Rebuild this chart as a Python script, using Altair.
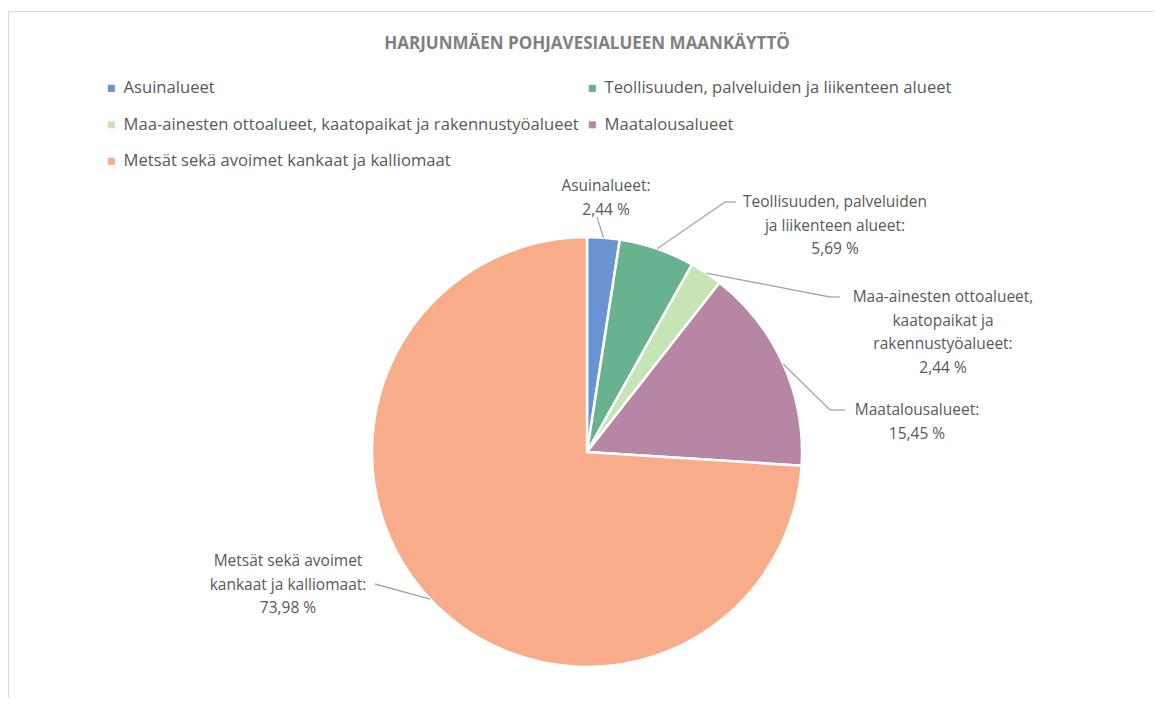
import altair as alt
import pandas as pd

# ---- data ----
categories = [
    "Asuinalueet",
    "Teollisuuden, palveluiden ja liikenteen alueet",
    "Maa-ainesten ottoalueet, kaatopaikat ja rakennustyöalueet",
    "Maatalousalueet",
    "Metsät sekä avoimet kankaat ja kalliomaat",
]
shares = [2.44, 5.69, 2.44, 15.45, 73.98]
label_names = [
    ["Asuinalueet:"],
    ["Teollisuuden, palveluiden", "ja liikenteen alueet:"],
    ["Maa-ainesten ottoalueet,", "kaatopaikat ja", "rakennustyöalueet:"],
    ["Maatalousalueet:"],
    ["Metsät sekä avoimet", "kankaat ja kalliomaat:"],
]
title_text = "HARJUNMÄEN POHJAVESIALUEEN MAANKÄYTTÖ"

# ---- styles / layout ----
colors = ["#6b93d4", "#68b28f", "#c6e4b5", "#b686a4", "#f9ac8a"]
W, H = 1146, 690
CX, CY, R = 579, 444, 215
TEXT_COLOR = "#595959"
FONT = "Open Sans"

# label layout (view coordinates): elbow point, end of horizontal tick, first text line
elbow_x = [589, 717, 822, 822, 367]
elbow_y = [209, 194, 289, 402, 576]
end_x = [589, 728, 832, 837, 367]
text_x = [598, 827, 935, 909, 280]
text_y = [178, 194, 289, 402, 553]


def pct(v):
    return f"{v:.2f}".replace(".", ",") + " %"


df = pd.DataFrame({"category": categories, "share": shares, "order": list(range(len(categories)))})

lab = pd.DataFrame({
    "category": categories,
    "share": shares,
    "order": list(range(len(categories))),
    "label": ["\n".join(n + [pct(v)]) for n, v in zip(label_names, shares)],
    "ex": elbow_x, "ey": elbow_y, "tx": end_x, "lx": text_x, "ly": text_y,
})

color_scale = alt.Scale(domain=categories, range=colors)

pie = alt.Chart(df).mark_arc(outerRadius=R, stroke="white", strokeWidth=2.5).encode(
    theta=alt.Theta("share:Q", stack=True),
    color=alt.Color(
        "category:N", scale=color_scale, sort=categories,
        legend=alt.Legend(
            title=None, orient="none", legendX=95, legendY=72, columns=2,
            direction="horizontal",
            symbolType="square", symbolSize=50, symbolStrokeWidth=0,
            labelFont=FONT, labelFontSize=16.6, labelColor=TEXT_COLOR, labelLimit=0,
            rowPadding=19.5, columnPadding=5, labelOffset=4,
        ),
    ),
    order=alt.Order("order:Q", sort="ascending"),
    x=alt.value(CX), y=alt.value(CY),
)

anchors = alt.Chart(lab).transform_joinaggregate(
    total="sum(share)"
).transform_window(
    cum="sum(share)", sort=[alt.SortField("order")], frame=[None, 0]
).transform_calculate(
    mid="(datum.cum - datum.share / 2) / datum.total * 2 * PI",
    ax=f"{CX} + {R} * sin(datum.mid)",
    ay=f"{CY} - {R} * cos(datum.mid)",
)

seg1 = anchors.mark_rule(color="#a6a6a6", strokeWidth=1.3).encode(
    x=alt.X("ax:Q", scale=None), y=alt.Y("ay:Q", scale=None),
    x2="ex:Q", y2="ey:Q",
)
seg2 = alt.Chart(lab).mark_rule(color="#a6a6a6", strokeWidth=1.3).encode(
    x=alt.X("ex:Q", scale=None), y=alt.Y("ey:Q", scale=None),
    x2="tx:Q", y2="ey:Q",
)
labels = alt.Chart(lab).mark_text(
    font=FONT, fontSize=15.5, color=TEXT_COLOR, lineBreak="\n", lineHeight=23.5,
    align="center", baseline="middle",
).encode(
    x=alt.X("lx:Q", scale=None), y=alt.Y("ly:Q", scale=None), text="label:N",
)

title = alt.Chart(pd.DataFrame({"t": [title_text]})).mark_text(
    font=FONT, fontSize=17, fontWeight="bold", color="#808080", align="center", baseline="middle",
).encode(text="t:N", x=alt.value(W / 2 + 6), y=alt.value(36))

border_top = alt.Chart(pd.DataFrame({"k": [0]})).mark_rule(color="#d9d9d9", strokeWidth=1).encode(
    x=alt.value(0), x2=alt.value(W), y=alt.value(3.5)
)
border_left = alt.Chart(pd.DataFrame({"k": [0]})).mark_rule(color="#d9d9d9", strokeWidth=1).encode(
    x=alt.value(0.5), y=alt.value(3), y2=alt.value(H)
)

chart = alt.layer(border_top, border_left, title, pie, seg1, seg2, labels).properties(
    width=W, height=H, padding=0, autosize="none", background="white"
).configure_view(stroke=None)

chart.save("out.html", embed_options={"renderer": "svg", "actions": False})
